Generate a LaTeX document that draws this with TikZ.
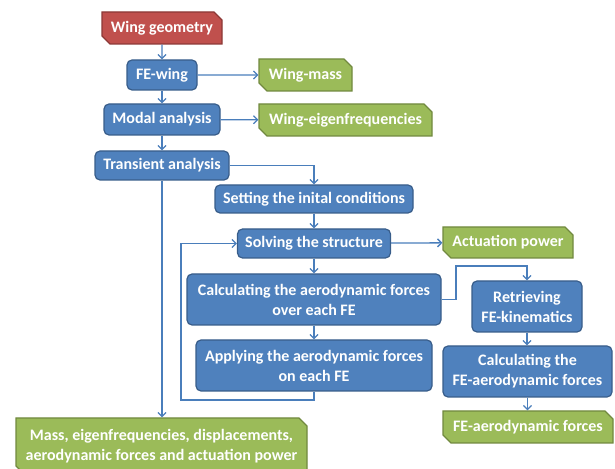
\documentclass[tikz,border=0pt]{standalone}
\usepackage{fontspec}
\setmainfont{Carlito}
\usetikzlibrary{arrows.meta,shapes.misc}
\definecolor{bfill}{HTML}{4F81BD}
\definecolor{bdraw}{HTML}{385D8A}
\definecolor{gfill}{HTML}{9BBB59}
\definecolor{gdraw}{HTML}{71893F}
\definecolor{rfill}{HTML}{C0504D}
\definecolor{rdraw}{HTML}{8C3836}
\definecolor{arr}{HTML}{4A7EBB}
\tikzset{
  base/.style={inner sep=2pt, align=center, text=white,
    font=\fontsize{16}{20}\selectfont\bfseries, line width=1.2pt},
  bluebox/.style={base, rectangle, rounded corners=5pt, fill=bfill, draw=bdraw},
  greenbox/.style={base, chamfered rectangle, chamfered rectangle corners={north east,south west},
    chamfered rectangle xsep=4pt, chamfered rectangle ysep=4pt, fill=gfill, draw=gdraw},
  redbox/.style={base, chamfered rectangle, chamfered rectangle corners={north east,south west},
    chamfered rectangle xsep=4pt, chamfered rectangle ysep=4pt, fill=rfill, draw=rdraw},
  conn/.style={draw=arr, line width=1.3pt, -{Straight Barb[length=4pt,width=8pt,line width=1.3pt]}},
  wh/.style 2 args={minimum width=#1pt, minimum height=#2pt}
}
\begin{document}
\begin{tikzpicture}[x=1pt,y=1pt]
\useasboundingbox (0,0) rectangle (615,468);
\node[redbox, wh={120}{32}] (geo) at (162,440) {Wing geometry};
\node[bluebox, wh={70}{30}] (few) at (162,393) {FE-wing};
\node[greenbox, wh={93}{32}] (mass) at (305.5,393) {Wing-mass};
\node[bluebox, wh={116}{31}] (modal) at (162,348.5) {Modal analysis};
\node[greenbox, wh={173}{32}] (eig) at (345.5,348) {Wing-eigenfrequencies};
\node[bluebox, wh={134}{29}] (trans) at (162,302.5) {Transient analysis};
\node[bluebox, wh={198}{28}] (set) at (314,269) {Setting the inital conditions};
\node[bluebox, wh={153}{29}] (solve) at (314,224.5) {Solving the structure};
\node[greenbox, wh={130}{31}] (act) at (508,225.5) {Actuation power};
\node[bluebox, wh={254}{51}] (calc) at (314,168.5) {Calculating the aerodynamic forces\\over each FE};
\node[bluebox, wh={236}{51}] (apply) at (314,102.5) {Applying the aerodynamic forces\\on each FE};
\node[bluebox, wh={110}{51}] (retr) at (527,161.5) {Retrieving\\FE-kinematics};
\node[bluebox, wh={169}{51}] (calcfe) at (527.5,96.5) {Calculating the\\FE-aerodynamic forces};
\node[greenbox, wh={170}{32}] (fe) at (528,41) {FE-aerodynamic forces};
\node[greenbox, wh={291}{56}] (out) at (161.5,22) {Mass, eigenfrequencies, displacements,\\aerodynamic forces and actuation power};
\coordinate (lp) at (181,68);
\coordinate (c1) at (456,202);
\draw[conn] (geo) -- (few);
\draw[conn] (few) -- (mass);
\draw[conn] (few) -- (modal);
\draw[conn] (modal) -- (eig);
\draw[conn] (modal) -- (trans);
\draw[conn] (trans.east) -| (set.north);
\draw[conn] (trans.south) -- (trans.south |- out.north);
\draw[conn] (set) -- (solve);
\draw[conn] (solve) -- (act);
\draw[conn] (solve) -- (calc);
\draw[conn] (calc) -- (apply);
\draw[conn] (apply.south) |- (lp) |- (solve.west);
\draw[conn] (calc.east) -| (c1) -| (retr.north);
\draw[conn] (retr.south) -- (retr.south |- calcfe.north);
\draw[conn] (calcfe.south) -- (calcfe.south |- fe.north);
\end{tikzpicture}
\end{document}
